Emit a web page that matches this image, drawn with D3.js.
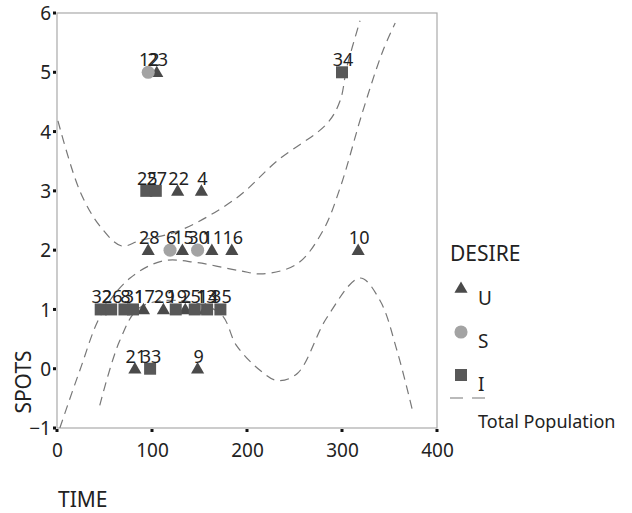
<!DOCTYPE html>
<html>
<head>
<meta charset="utf-8">
<script src="https://cdn.jsdelivr.net/npm/d3@7"></script>
<style>
  body { margin: 0; background: #fff; }
  text { font-family: "Noto Sans", sans-serif; fill: #222; }
</style>
</head>
<body>
<svg id="chart" width="632" height="513"></svg>
<script>
// desire groups: U = triangle, S = circle, I = square
const desireCats = ["U", "S", "I"];

const uIds   = [23, 22, 4, 28, 15, 11, 16, 10, 21, 9, 17, 29, 2, 13];
const uTime  = [105, 127, 152, 96, 132, 163, 184, 317, 82, 148, 91, 112, 135, 156];
const uSpots = [5, 3, 3, 2, 2, 2, 2, 2, 0, 0, 1, 1, 1, 1];

const sIds   = [12, 6, 30];
const sTime  = [96, 119, 148];
const sSpots = [5, 2, 2];

const iIds   = [34, 25, 27, 33, 32, 26, 8, 31, 19, 5, 14, 35];
const iTime  = [300, 94, 104, 98, 46, 57, 71, 80, 125, 145, 158, 172];
const iSpots = [5, 3, 3, 0, 1, 1, 1, 1, 1, 1, 1, 1];

// dashed "Total Population" band curves
const upperTime  = [1, 24, 45, 68, 87, 129, 189, 232, 284, 298, 305, 319];
const upperSpots = [4.18, 3.0, 2.41, 2.07, 2.16, 2.33, 2.88, 3.51, 4.13, 4.52, 5.08, 5.87];

const midTime  = [3, 24, 47, 77, 112, 147, 193, 217, 253, 280, 298, 322, 343, 356];
const midSpots = [-1.0, -0.03, 0.93, 1.53, 1.82, 1.79, 1.65, 1.6, 1.77, 2.33, 3.05, 4.35, 5.36, 5.83];

const lowTime  = [45, 66, 87, 129, 172, 189, 214, 232, 253, 284, 319, 340, 358, 375];
const lowSpots = [-0.62, 0.47, 1.03, 1.15, 0.93, 0.39, -0.03, -0.2, -0.08, 0.86, 1.53, 1.15, 0.3, -0.76];

const xTicks = [0, 100, 200, 300, 400];
const yTicks = [-1, 0, 1, 2, 3, 4, 5, 6];

const svg = d3.select("#chart");
const x = d3.scaleLinear().domain([0, 400]).range([57, 437]);
const y = d3.scaleLinear().domain([-1, 6]).range([428, 13]);

// frame
svg.append("rect")
  .attr("x", x(0)).attr("y", y(6))
  .attr("width", x(400) - x(0)).attr("height", y(-1) - y(6))
  .attr("fill", "none").attr("stroke", "#aaa").attr("stroke-width", 1.2);

// axes
const xAxis = svg.append("g").attr("transform", "translate(0," + y(-1) + ")")
  .call(d3.axisBottom(x).tickValues(xTicks).tickFormat(d3.format("d")).tickSize(0).tickPadding(16));
const yAxis = svg.append("g").attr("transform", "translate(" + x(0) + ",0)")
  .call(d3.axisLeft(y).tickValues(yTicks).tickFormat(d3.format("d")).tickSize(0).tickPadding(6));
[xAxis, yAxis].forEach(a => {
  a.select(".domain").remove();
  a.selectAll("text").style("font-size", "19px").attr("fill", "#222");
});
yAxis.selectAll("text").attr("dy", "0.35em");
// little square tick marks
svg.selectAll(".xdot").data(xTicks).enter().append("rect")
  .attr("x", d => x(d) - 1.5).attr("y", y(-1) + 1).attr("width", 3).attr("height", 3).attr("fill", "#111");
svg.selectAll(".ydot").data(yTicks).enter().append("rect")
  .attr("x", x(0) - 4).attr("y", d => y(d) - 1.5).attr("width", 3).attr("height", 3).attr("fill", "#111");

svg.append("text").attr("x", 58).attr("y", 507).style("font-size", "21px").text("TIME");
svg.append("text").attr("transform", "translate(31,382) rotate(-90)")
  .attr("text-anchor", "middle").style("font-size", "21px").text("SPOTS");

// curves
svg.append("clipPath").attr("id", "plotclip").append("rect")
  .attr("x", x(0)).attr("y", y(6)).attr("width", x(400) - x(0)).attr("height", y(-1) - y(6));
const line = d3.line().x(d => x(d[0])).y(d => y(d[1])).curve(d3.curveCatmullRom.alpha(0.5));
const curves = [
  d3.zip(upperTime, upperSpots),
  d3.zip(midTime, midSpots),
  d3.zip(lowTime, lowSpots)
];
svg.append("g").attr("clip-path", "url(#plotclip)")
  .selectAll("path").data(curves).enter().append("path")
  .attr("d", line)
  .attr("fill", "none").attr("stroke", "#777").attr("stroke-width", 1.2)
  .attr("stroke-dasharray", "9,6");

// points
const sym = {
  U: d3.symbol().type(d3.symbolTriangle).size(75),
  S: d3.symbol().type(d3.symbolCircle).size(135),
  I: d3.symbol().type(d3.symbolSquare).size(144)
};
const fill = { U: "#4a4a4a", S: "#a3a3a3", I: "#585858" };

const pts = [];
uIds.forEach((id, i) => pts.push({ id, t: uTime[i], s: uSpots[i], g: "U" }));
sIds.forEach((id, i) => pts.push({ id, t: sTime[i], s: sSpots[i], g: "S" }));
iIds.forEach((id, i) => pts.push({ id, t: iTime[i], s: iSpots[i], g: "I" }));

svg.append("g").selectAll("path").data(pts).enter().append("path")
  .attr("transform", d => "translate(" + x(d.t) + "," + (y(d.s) + (d.g == "U" ? 1 : 0)) + ")")
  .attr("d", d => sym[d.g]())
  .attr("fill", d => fill[d.g]);

svg.append("g").selectAll("text").data(pts).enter().append("text")
  .attr("x", d => x(d.t) + 1).attr("y", d => y(d.s) - 6)
  .attr("text-anchor", "middle").style("font-size", "18px").attr("fill", "#111")
  .text(d => d.id);

// legend
svg.append("text").attr("x", 450).attr("y", 261).style("font-size", "21px").text("DESIRE");
const legY = [289, 332, 375];
desireCats.forEach((c, i) => {
  svg.append("path").attr("transform", "translate(461," + legY[i] + ")")
    .attr("d", sym[c]()).attr("fill", fill[c]);
  svg.append("text").attr("x", 478).attr("y", legY[i] + 16).style("font-size", "19px").text(c);
});
svg.append("line").attr("x1", 450).attr("x2", 488).attr("y1", 398).attr("y2", 398)
  .attr("stroke", "#777").attr("stroke-width", 1.2).attr("stroke-dasharray", "13,9");
svg.append("text").attr("x", 478).attr("y", 428).style("font-size", "18px").text("Total Population");
</script>
</body>
</html>
